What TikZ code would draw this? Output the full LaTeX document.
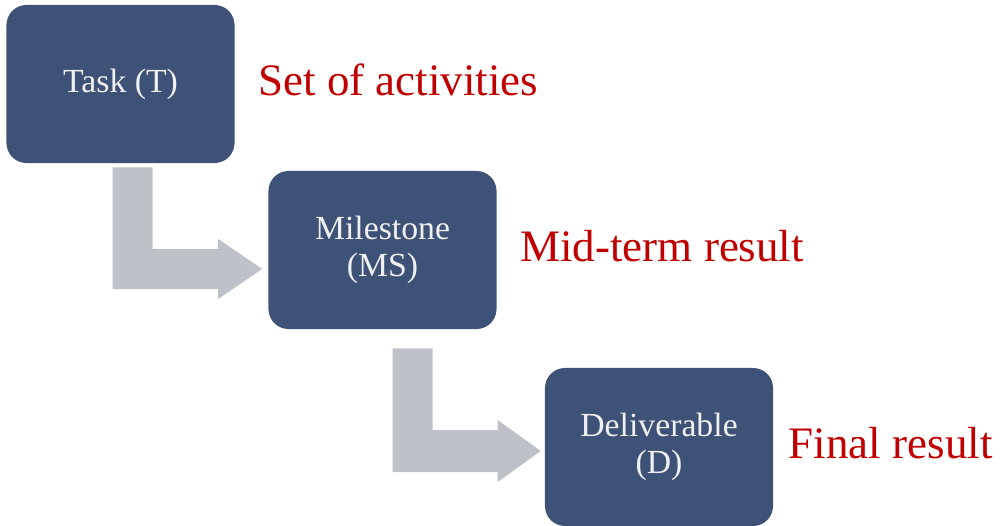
\documentclass[tikz,border=0pt]{standalone}
\usepackage{fontspec}
\setmainfont{Liberation Serif}
\usetikzlibrary{positioning,calc}
\definecolor{boxblue}{HTML}{3E5277}
\definecolor{bendgrey}{HTML}{BEC1C8}
\definecolor{notered}{HTML}{C00000}
\tikzset{
  stage/.style={rectangle, rounded corners=0.5cm, fill=boxblue, text=white!94!black,
    minimum width=5.7cm, minimum height=3.95cm, align=center, inner sep=0pt,
    font=\fontsize{24}{26}\selectfont},
  note/.style={text=notered, inner sep=0pt, yshift=0.1cm, font=\fontsize{32}{34}\selectfont},
  bentarrow/.style={fill=bendgrey, draw=none}
}

\begin{document}
\begin{tikzpicture}[x=0.025cm, y=-0.025cm]
    \useasboundingbox (0,0) rectangle (1001,526);
    \node[stage] (task) at (120.5,84) {Task (T)};
    \node[stage] (ms) at (382.5,250) {Milestone\\(MS)};
    \node[stage] (del) at (659,447) {Deliverable\\(D)};
    %
    \node[note, right=0.58cm of task] (tasknote) {Set of activities};
    \node[note, right=0.58cm of ms] (msnote) {Mid-term result};
    \node[note, right=0.38cm of del] (delnote) {Final result};
    %
    % bent arrows: down from one stage, then right into the next
    \coordinate (a1) at ($(task.south)+(-8,4)$);
    \coordinate (t1) at ($(ms.west)+(-6,19)$);
    \fill[bentarrow] (a1) -- ++(40,0) |- ($(t1)+(-44,-20)$) -- ++(0,-10) -- (t1)
      -- ++(-44,30) -- ++(0,-10) -| (a1) -- cycle;
    \coordinate (a2) at ($(ms.south)+(10,19)$);
    \coordinate (t2) at ($(del.west)+(-4,4)$);
    \fill[bentarrow] (a2) -- ++(40,0) |- ($(t2)+(-43,-21)$) -- ++(0,-10) -- (t2)
      -- ++(-43,31) -- ++(0,-10) -| (a2) -- cycle;
\end{tikzpicture}
\end{document}
